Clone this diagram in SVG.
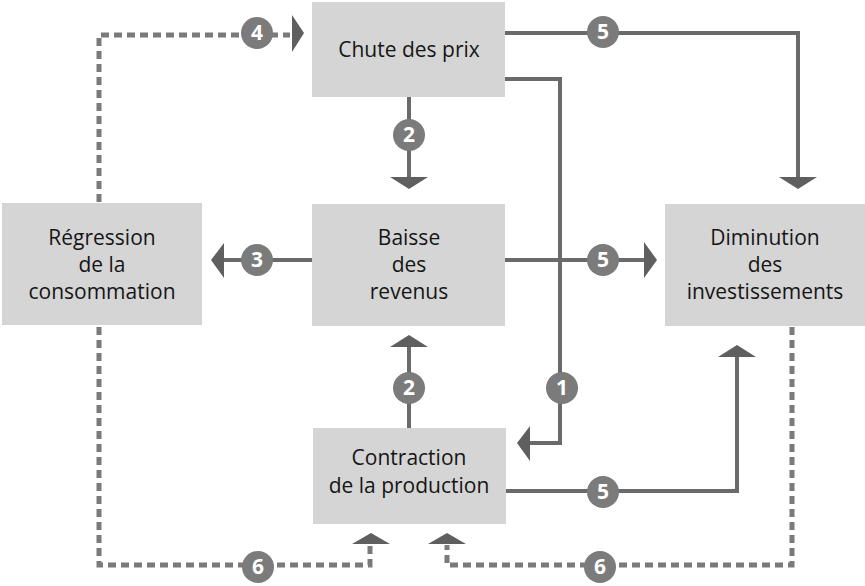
<svg xmlns="http://www.w3.org/2000/svg" width="865" height="586" viewBox="0 0 865 586">
<style>
.box{fill:#d5d5d5}
.lbl{font-family:"Open Sans","Liberation Sans",sans-serif;font-size:21px;fill:#151515;text-anchor:middle}
.ln{stroke:#6a6a6a;stroke-width:4;fill:none}
.dash{stroke:#7a7a7a;stroke-width:5;fill:none;stroke-dasharray:8 5}
.ah{fill:#5f5f5f}
.bd circle{fill:#7b7b7b}
.bd text{font-family:"Open Sans","Liberation Sans",sans-serif;font-size:21px;font-weight:bold;fill:#fff;text-anchor:middle}
</style>
<rect width="865" height="586" fill="#fff"/>
<g id="connectors">
  <path class="ln" d="M505 33 H798 V178"/>
  <polygon class="ah" points="779,177 817,177 798,189"/>
  <path class="ln" d="M505 79 H560 V443 H528"/>
  <polygon class="ah" points="530,426 530,461 517,443"/>
  <path class="ln" d="M409 97 V178"/>
  <polygon class="ah" points="390,177 428,177 409,189"/>
  <path class="ln" d="M312 260 H222"/>
  <polygon class="ah" points="224,243 224,278 211,260"/>
  <path class="ln" d="M505 260 H646"/>
  <polygon class="ah" points="644,242 644,278 657,260"/>
  <path class="ln" d="M409 428 V346"/>
  <polygon class="ah" points="390,347 428,347 409,335"/>
  <path class="ln" d="M506 491 H737 V356"/>
  <polygon class="ah" points="718,357 756,357 737,345"/>
  <path class="dash" d="M99 202 V35 H290"/>
  <polygon class="ah" points="292,15 292,52 304,33"/>
  <path class="dash" d="M99 327 V565 H370 V545"/>
  <polygon class="ah" points="352,544 390,544 371,533"/>
  <path class="dash" d="M792 327 V565 H447 V545"/>
  <polygon class="ah" points="428,544 466,544 447,533"/>
</g>
<g id="node-chute"><rect class="box" x="312" y="2" width="193" height="95"/><text class="lbl" x="409" y="57">Chute des prix</text></g>
<g id="node-regression"><rect class="box" x="2" y="203" width="200" height="122"/><text class="lbl" x="102" y="245">Régression</text><text class="lbl" x="102" y="272">de la</text><text class="lbl" x="102" y="299">consommation</text></g>
<g id="node-baisse"><rect class="box" x="312" y="204" width="193" height="122"/><text class="lbl" x="409" y="245">Baisse</text><text class="lbl" x="409" y="272">des</text><text class="lbl" x="409" y="299">revenus</text></g>
<g id="node-diminution"><rect class="box" x="665" y="204" width="200" height="122"/><text class="lbl" x="765" y="245">Diminution</text><text class="lbl" x="765" y="272">des</text><text class="lbl" x="765" y="299">investissements</text></g>
<g id="node-contraction"><rect class="box" x="313" y="428" width="193" height="96"/><text class="lbl" x="409" y="465">Contraction</text><text class="lbl" x="409" y="493">de la production</text></g>
<g id="badges">
  <g class="bd"><circle cx="603" cy="32" r="16"/><text x="603" y="39">5</text></g>
  <g class="bd"><circle cx="257" cy="33" r="16"/><text x="257" y="40">4</text></g>
  <g class="bd"><circle cx="409" cy="135" r="16"/><text x="409" y="142">2</text></g>
  <g class="bd"><circle cx="257" cy="260" r="16"/><text x="257" y="267">3</text></g>
  <g class="bd"><circle cx="603" cy="260" r="16"/><text x="603" y="267">5</text></g>
  <g class="bd"><circle cx="409" cy="388" r="16"/><text x="409" y="395">2</text></g>
  <g class="bd"><circle cx="562" cy="388" r="16"/><text x="562" y="395">1</text></g>
  <g class="bd"><circle cx="603" cy="492" r="16"/><text x="603" y="499">5</text></g>
  <g class="bd"><circle cx="258" cy="567" r="16"/><text x="258" y="574">6</text></g>
  <g class="bd"><circle cx="600" cy="567" r="16"/><text x="600" y="574">6</text></g>
</g>
</svg>
